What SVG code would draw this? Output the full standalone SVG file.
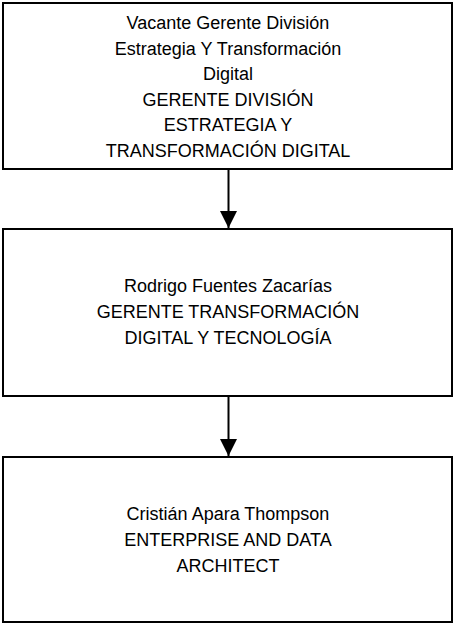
<svg xmlns="http://www.w3.org/2000/svg" width="454" height="624" viewBox="0 0 454 624">
<style>
.box{fill:#fff;stroke:#000;stroke-width:2}
.t{font-family:"Liberation Sans",Arial,sans-serif;font-size:18px;fill:#000;text-anchor:middle}
.c{stroke:#000;stroke-width:2;fill:none}
</style>
<defs>
<marker id="ah" markerUnits="userSpaceOnUse" markerWidth="18" markerHeight="18" refX="17" refY="8.5" orient="auto">
<path d="M0,0 L17,8.5 L0,17 Z" fill="#000"/>
</marker>
</defs>
<rect width="454" height="624" fill="#fff"/>
<g id="n1">
<rect class="box" x="3" y="3" width="449" height="166"/>
<text class="t" x="228" y="29">Vacante Gerente División</text>
<text class="t" x="228" y="54.6">Estrategia Y Transformación</text>
<text class="t" x="228" y="80.2">Digital</text>
<text class="t" x="228" y="105.8">GERENTE DIVISIÓN</text>
<text class="t" x="228" y="131.4">ESTRATEGIA Y</text>
<text class="t" x="228" y="157">TRANSFORMACIÓN DIGITAL</text>
</g>
<g id="n2">
<rect class="box" x="3" y="229" width="449" height="167"/>
<text class="t" x="228" y="292">Rodrigo Fuentes Zacarías</text>
<text class="t" x="228" y="318">GERENTE TRANSFORMACIÓN</text>
<text class="t" x="228" y="344">DIGITAL Y TECNOLOGÍA</text>
</g>
<g id="n3">
<rect class="box" x="3" y="457" width="449" height="165"/>
<text class="t" x="228" y="520">Cristián Apara Thompson</text>
<text class="t" x="228" y="546">ENTERPRISE AND DATA</text>
<text class="t" x="228" y="572">ARCHITECT</text>
</g>
<g id="connectors">
<line class="c" x1="228.5" y1="170" x2="228.5" y2="228" marker-end="url(#ah)"/>
<line class="c" x1="228.5" y1="397" x2="228.5" y2="456" marker-end="url(#ah)"/>
</g>
</svg>
